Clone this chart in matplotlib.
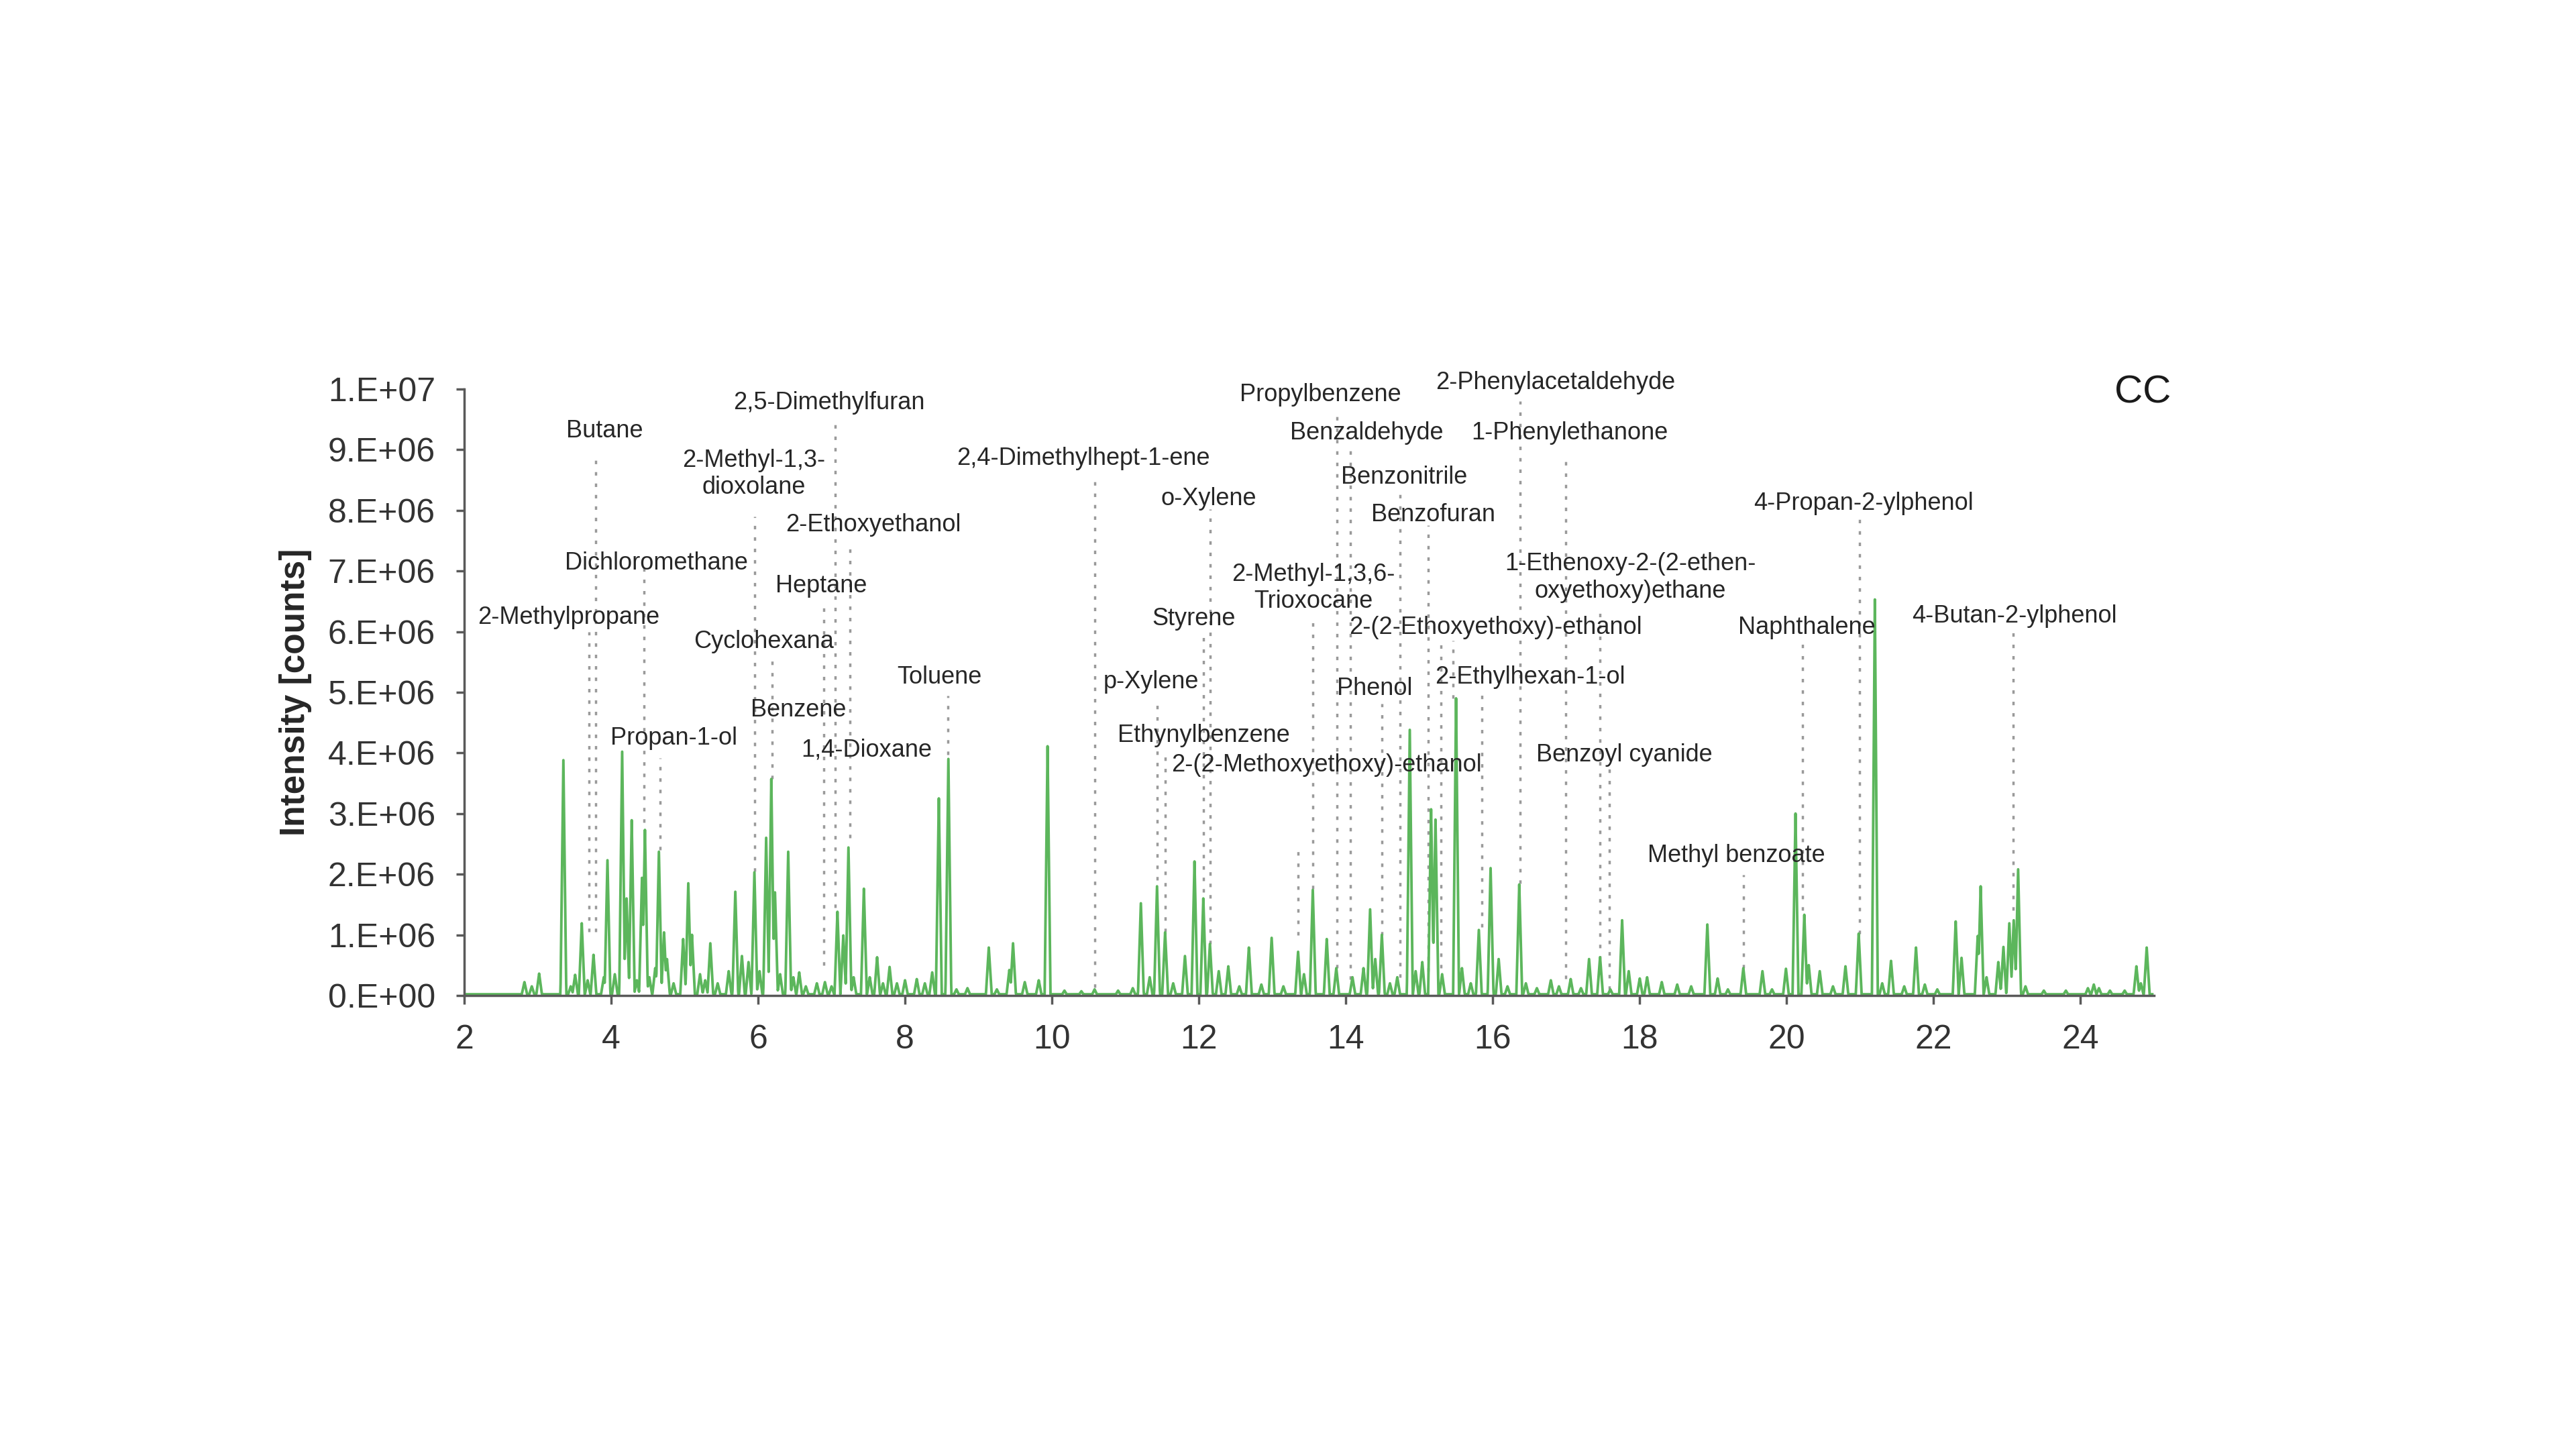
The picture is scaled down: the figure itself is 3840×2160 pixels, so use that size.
import numpy as np
import matplotlib
matplotlib.use('Agg')
import matplotlib.pyplot as plt

plt.rcParams['font.family'] = ['Liberation Sans', 'DejaVu Sans']

# chromatogram peaks: retention time [min] and height [1e6 counts]
peak_rt = [2.82, 2.92, 3.02, 3.35, 3.45, 3.51, 3.60, 3.68, 3.76, 3.90, 3.95, 4.05,
           4.15, 4.21, 4.28, 4.35, 4.42, 4.46, 4.52, 4.60, 4.65, 4.72, 4.76, 4.85,
           4.98, 5.05, 5.10, 5.21, 5.28, 5.35, 5.45, 5.60, 5.69, 5.78, 5.87, 5.95,
           6.02, 6.11, 6.18, 6.23, 6.30, 6.41, 6.48, 6.56, 6.65, 6.80, 6.91, 7.00,
           7.08, 7.16, 7.23, 7.30, 7.44, 7.52, 7.62, 7.70, 7.79, 7.89, 8.00, 8.16,
           8.27, 8.37, 8.46, 8.59, 8.70, 8.85, 9.14, 9.25, 9.42, 9.47, 9.63, 9.82,
           9.94, 10.17, 10.40, 10.58, 10.90, 11.10, 11.21, 11.33, 11.43, 11.54, 11.65,
           11.81, 11.94, 12.06, 12.15, 12.27, 12.40, 12.55, 12.68, 12.85, 12.99, 13.15,
           13.35, 13.43, 13.55, 13.74, 13.87, 14.09, 14.24, 14.33, 14.40, 14.49, 14.60,
           14.70, 14.87, 14.95, 15.04, 15.16, 15.22, 15.31, 15.50, 15.58, 15.70, 15.81,
           15.97, 16.08, 16.20, 16.36, 16.45, 16.60, 16.79, 16.90, 17.06, 17.20, 17.31,
           17.46, 17.60, 17.76, 17.85, 18.00, 18.10, 18.30, 18.51, 18.70, 18.92, 19.06,
           19.20, 19.41, 19.67, 19.80, 19.99, 20.12, 20.24, 20.30, 20.45, 20.63, 20.80,
           20.98, 21.20, 21.30, 21.42, 21.60, 21.76, 21.88, 22.05, 22.30, 22.38, 22.60,
           22.64, 22.72, 22.88, 22.95, 23.03, 23.09, 23.15, 23.25, 23.50, 23.80, 24.10,
           24.18, 24.25, 24.40, 24.60, 24.76, 24.82, 24.90]
peak_h = [0.22, 0.15, 0.36, 3.88, 0.15, 0.34, 1.19, 0.25, 0.67, 0.30, 2.23, 0.35,
          4.02, 1.60, 2.89, 0.25, 1.94, 2.73, 0.30, 0.45, 2.37, 1.04, 0.60, 0.20,
          0.93, 1.85, 1.00, 0.35, 0.25, 0.86, 0.20, 0.40, 1.71, 0.65, 0.55, 2.03,
          0.40, 2.60, 3.57, 1.70, 0.35, 2.37, 0.30, 0.38, 0.15, 0.20, 0.22, 0.15,
          1.38, 0.99, 2.44, 0.30, 1.76, 0.30, 0.63, 0.20, 0.47, 0.20, 0.25, 0.27,
          0.20, 0.38, 3.25, 3.90, 0.10, 0.12, 0.79, 0.10, 0.42, 0.86, 0.22, 0.25,
          4.11, 0.08, 0.07, 0.10, 0.08, 0.12, 1.52, 0.30, 1.80, 1.04, 0.20,
          0.65, 2.21, 1.60, 0.85, 0.40, 0.48, 0.15, 0.79, 0.18, 0.95, 0.15,
          0.72, 0.35, 1.74, 0.93, 0.45, 0.30, 0.45, 1.42, 0.60, 1.00, 0.20,
          0.30, 4.38, 0.40, 0.55, 3.07, 2.90, 0.35, 4.90, 0.45, 0.20, 1.08,
          2.10, 0.60, 0.15, 1.83, 0.20, 0.12, 0.25, 0.15, 0.27, 0.12, 0.60,
          0.63, 0.10, 1.24, 0.40, 0.28, 0.30, 0.22, 0.18, 0.15, 1.17, 0.28,
          0.10, 0.45, 0.40, 0.10, 0.44, 3.00, 1.33, 0.50, 0.40, 0.15, 0.48,
          1.02, 6.53, 0.20, 0.57, 0.15, 0.79, 0.18, 0.10, 1.22, 0.62, 0.98,
          1.80, 0.30, 0.55, 0.80, 1.19, 1.24, 2.08, 0.15, 0.08, 0.08, 0.12,
          0.18, 0.12, 0.08, 0.08, 0.48, 0.20, 0.79]

# compound labels and where their text sits (min, 1e6 counts)
names = ['Butane', '2,5-Dimethylfuran', '2-Methyl-1,3-\ndioxolane', '2-Ethoxyethanol',
         'Dichloromethane', 'Heptane', '2-Methylpropane', 'Cyclohexana', 'Toluene',
         'Benzene', 'Propan-1-ol', '1,4-Dioxane', '2,4-Dimethylhept-1-ene', 'o-Xylene',
         'Propylbenzene', 'Benzaldehyde', 'Benzonitrile', 'Benzofuran',
         '2-Methyl-1,3,6-\nTrioxocane', 'Styrene', '2-(2-Ethoxyethoxy)-ethanol',
         'p-Xylene', 'Phenol', '2-Ethylhexan-1-ol', 'Ethynylbenzene',
         '2-(2-Methoxyethoxy)-ethanol', 'Benzoyl cyanide', '2-Phenylacetaldehyde',
         '1-Phenylethanone', '1-Ethenoxy-2-(2-ethen-\noxyethoxy)ethane',
         '4-Propan-2-ylphenol', 'Naphthalene', '4-Butan-2-ylphenol', 'Methyl benzoate']
name_x = [3.91, 6.97, 5.94, 7.57, 4.62, 6.86, 3.42, 6.08, 8.47, 6.55, 4.85, 7.48,
          10.43, 12.13, 13.65, 14.28, 14.79, 15.19, 13.56, 11.93, 16.04, 11.35, 14.39,
          16.51, 12.07, 13.74, 17.79, 16.85, 17.05, 17.87, 21.05, 20.27, 23.10, 19.31]
name_y = [9.31, 9.77, 8.60, 7.76, 7.13, 6.75, 6.23, 5.83, 5.25, 4.71, 4.24, 4.05,
          8.85, 8.19, 9.91, 9.28, 8.55, 7.92, 6.72, 6.21, 6.07, 5.17, 5.06,
          5.25, 4.29, 3.80, 3.97, 10.10, 9.28, 6.89, 8.11, 6.07, 6.26, 2.31]
cc_x, cc_y = 24.85, 9.94

# dotted leader lines: retention time, top and bottom (1e6 counts)
lead_rt = [3.70, 3.79, 4.45, 4.67, 5.95, 6.19, 6.89, 7.05, 7.25, 8.58, 10.58, 11.43,
           11.54, 12.06, 12.15, 13.35, 13.55, 13.88, 14.06, 14.49, 14.74, 15.12, 15.29,
           15.46, 15.85, 16.37, 16.99, 17.46, 17.59, 19.41, 20.22, 20.99, 23.08]
lead_top = [6.00, 8.92, 7.06, 3.92, 7.90, 5.60, 6.40, 9.42, 7.48, 4.94, 8.47, 4.91,
            3.97, 6.00, 8.02, 2.39, 6.24, 9.60, 9.06, 4.81, 8.27, 7.75, 5.85,
            5.85, 5.00, 9.80, 8.86, 6.34, 3.77, 1.99, 5.85, 7.88, 6.00]
lead_bot = [1.05, 1.05, 2.85, 2.40, 2.05, 3.57, 0.50, 1.45, 2.60, 3.97, 0.13, 1.90,
            1.05, 1.70, 0.85, 1.00, 1.76, 0.45, 0.27, 1.00, 0.30, 0.40, 0.45,
            4.90, 1.13, 1.85, 0.28, 0.60, 0.10, 0.45, 1.40, 1.02, 1.40]

y_ticks = [0, 1e6, 2e6, 3e6, 4e6, 5e6, 6e6, 7e6, 8e6, 9e6, 1e7]
y_tick_labels = ['0.E+00', '1.E+06', '2.E+06', '3.E+06', '4.E+06', '5.E+06',
                 '6.E+06', '7.E+06', '8.E+06', '9.E+06', '1.E+07']
x_ticks = [2, 4, 6, 8, 10, 12, 14, 16, 18, 20, 22, 24]

# trace: each peak drawn as a narrow spike on a flat baseline
t = np.union1d(np.arange(2.0, 24.98, 0.004), peak_rt)
trace = np.full_like(t, 0.02)
for rt, h in zip(peak_rt, peak_h):
    spike = h * np.clip(1 - np.abs(t - rt) / 0.04, 0, None)
    trace = np.maximum(trace, spike)

fig = plt.figure(figsize=(38.4, 21.6), dpi=100)
ax = fig.add_axes([0.1802, 0.3130, 0.6560, 0.4185])

ax.vlines(lead_rt, np.array(lead_bot) * 1e6, np.array(lead_top) * 1e6,
          colors='#9a9a9a', linestyles=(0, (1.5, 3.4)), linewidth=2.5, zorder=1)
ax.plot(t, trace * 1e6, color='#5cb65c', linewidth=2.8, zorder=2)

for name, x, y in zip(names, name_x, name_y):
    ax.text(x, y * 1e6, name, ha='center', va='center', multialignment='center',
            fontsize=26, color='#262626', zorder=3, clip_on=False)

ax.text(cc_x, cc_y * 1e6, 'CC', ha='center', va='center', fontsize=42,
        color='#1a1a1a', clip_on=False)

ax.set_xlim(2, 25)
ax.set_ylim(0, 1e7)
ax.set_xticks(x_ticks)
ax.set_yticks(y_ticks)
ax.set_yticklabels(y_tick_labels)
ax.tick_params(axis='both', direction='out', length=9, width=2.5, color='#595959',
               labelsize=36, labelcolor='#333333', pad=22)
ax.set_ylabel('Intensity [counts]', fontsize=37, fontweight='bold', color='#262626',
              labelpad=17)
for side in ['top', 'right']:
    ax.spines[side].set_visible(False)
for side in ['left', 'bottom']:
    ax.spines[side].set_color('#595959')
    ax.spines[side].set_linewidth(2.5)

fig.savefig('out.png', dpi=100, facecolor='white')
